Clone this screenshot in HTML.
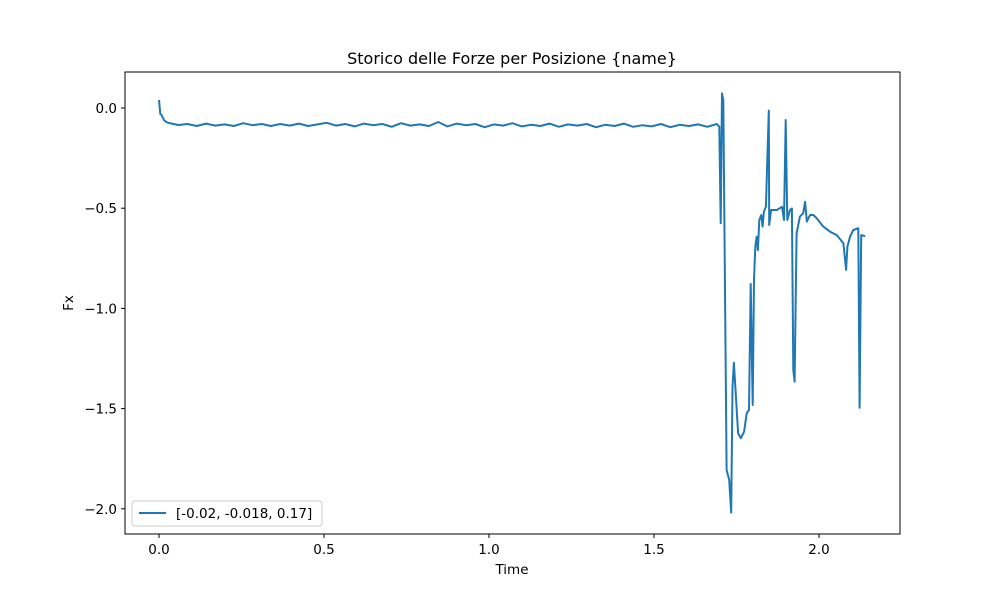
<!DOCTYPE html>
<html><head><meta charset="utf-8"><style>
body{margin:0;background:#fff;}
svg{display:block;font-family:"DejaVu Sans","Liberation Sans",sans-serif;}
</style></head><body>
<svg id="chart" width="1000" height="600">
<rect width="1000" height="600" fill="#fff"/>
<text x="512" y="64" text-anchor="middle" font-size="16">Storico delle Forze per Posizione {name}</text>
<g id="grid"></g>
<path id="series" fill="none" stroke="#1f77b4" stroke-width="2" stroke-linejoin="round"/>
<rect x="125" y="72" width="775" height="462" fill="none" stroke="#000" stroke-width="1"/>
<g id="xt"></g><g id="yt"></g>
<text x="512" y="574" text-anchor="middle" font-size="13.5">Time</text>
<text transform="translate(73,303) rotate(-90)" text-anchor="middle" font-size="13.5">Fx</text>
<g>
<rect x="132" y="501" width="190" height="25" rx="3" fill="#fff" stroke="#ccc"/>
<line x1="139" y1="513" x2="166" y2="513" stroke="#1f77b4" stroke-width="2"/>
<text x="176" y="518" font-size="13.5">[-0.02, -0.018, 0.17]</text>
</g>
</svg>
<script>
const xTicks=[0,0.5,1.0,1.5,2.0];
const xTickLabels=["0.0","0.5","1.0","1.5","2.0"];
const yTicks=[0,-0.5,-1.0,-1.5,-2.0];
const yTickLabels=["0.0","\u22120.5","\u22121.0","\u22121.5","\u22122.0"];
const startTimes=[0,0.004,0.008,0.015,0.022];
const startValues=[0.04,-0.03,-0.035,-0.06,-0.07];
const flatValues=[-0.075,-0.085,-0.08,-0.09,-0.078,-0.088,-0.082,-0.09,-0.076,-0.086,-0.08,-0.09,-0.08,-0.088,-0.078,-0.09,-0.082,-0.074,-0.088,-0.08,-0.092,-0.078,-0.086,-0.08,-0.094,-0.076,-0.088,-0.082,-0.09,-0.07,-0.092,-0.078,-0.086,-0.08,-0.096,-0.082,-0.088,-0.076,-0.092,-0.084,-0.09,-0.078,-0.094,-0.082,-0.088,-0.08,-0.096,-0.084,-0.09,-0.078,-0.094,-0.086,-0.092,-0.08,-0.096,-0.084,-0.09,-0.082,-0.094,-0.08];
const tailTimes=[1.698,1.702,1.706,1.710,1.720,1.728,1.734,1.738,1.742,1.755,1.763,1.773,1.781,1.788,1.793,1.799,1.803,1.807,1.811,1.815,1.819,1.825,1.829,1.833,1.839,1.848,1.849,1.855,1.872,1.888,1.894,1.899,1.904,1.912,1.918,1.922,1.926,1.932,1.942,1.952,1.958,1.963,1.973,1.983,1.993,2.013,2.033,2.054,2.074,2.082,2.086,2.094,2.104,2.119,2.123,2.128,2.140];
const tailValues=[-0.093,-0.575,0.073,0.04,-1.806,-1.856,-2.019,-1.391,-1.271,-1.623,-1.648,-1.615,-1.523,-1.507,-0.878,-1.482,-0.858,-0.692,-0.642,-0.709,-0.559,-0.534,-0.592,-0.517,-0.493,-0.013,-0.584,-0.509,-0.509,-0.493,-0.559,-0.060,-0.559,-0.509,-0.501,-1.307,-1.366,-0.625,-0.542,-0.525,-0.468,-0.567,-0.534,-0.534,-0.550,-0.592,-0.617,-0.634,-0.675,-0.808,-0.692,-0.642,-0.609,-0.600,-1.496,-0.634,-0.639];
const X=t=>159+t*330, Y=v=>108-v*200.4;
const ns="http://www.w3.org/2000/svg";
function mk(tag,attrs,parent){const e=document.createElementNS(ns,tag);for(const k in attrs)e.setAttribute(k,attrs[k]);parent.appendChild(e);return e;}
const times=[],vals=[];
startTimes.forEach((t,i)=>{times.push(t);vals.push(startValues[i]);});
const t0=0.03,t1=1.69;
flatValues.forEach((v,i)=>{times.push(t0+(t1-t0)*i/(flatValues.length-1));vals.push(v);});
tailTimes.forEach((t,i)=>{times.push(t);vals.push(tailValues[i]);});
document.getElementById('series').setAttribute('d',times.map((t,i)=>(i?'L':'M')+X(t).toFixed(1)+','+Y(vals[i]).toFixed(1)).join(''));
const xt=document.getElementById('xt'),yt=document.getElementById('yt');
xTicks.forEach((t,i)=>{
 const l=mk('line',{x1:X(t),x2:X(t),y1:534,y2:538,stroke:'#000'},xt);
 
 
 const tx=mk('text',{x:X(t),y:554,'text-anchor':'middle','font-size':'13.5'},xt);
 tx.textContent=xTickLabels[i];
 
 
});
yTicks.forEach((v,i)=>{
 const l=mk('line',{x1:121,x2:125,y1:Y(v),y2:Y(v),stroke:'#000'},yt);
 
 
 const tx=mk('text',{x:117,y:Y(v)+5,'text-anchor':'end','font-size':'13.5'},yt);
 tx.textContent=yTickLabels[i];
 
 
});
</script>
</body></html>
